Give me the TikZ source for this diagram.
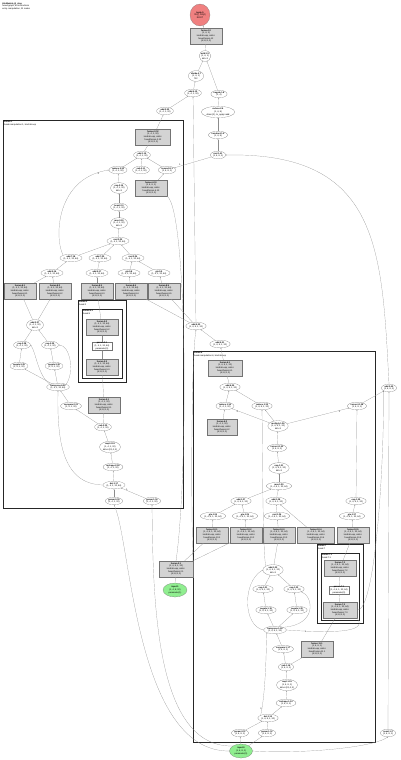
\documentclass[tikz,border=0pt]{standalone}
\usepackage{fontspec}
\setmainfont{Liberation Sans}
\definecolor{rootred}{RGB}{240,128,128}
\definecolor{paramgreen}{RGB}{144,238,144}
\definecolor{fusegray}{RGB}{211,211,211}
\usetikzlibrary{shapes.geometric, arrows.meta}
\newcommand{\hlofont}{\fontsize{3.1}{3.7}\selectfont}
\newcommand{\fusetext}[2]{\textbf{#1}\\#2\\kind=kLoop, calls=\\fused.#1\\\{4,3,2,1,0\}}

\begin{document}
\begin{tikzpicture}[
    x=0.05cm, y=-0.05cm,
    op/.style={ellipse, draw=black!55, fill=white, line width=0.25pt, inner sep=0.6pt,
      align=center, font=\hlofont},
    fuse/.style={rectangle, draw=black!55, fill=fusegray, line width=0.25pt, inner sep=0.6pt,
      minimum width=1.6cm, minimum height=0.8cm, align=center, font=\hlofont},
    plainbox/.style={rectangle, draw=black!55, fill=white, line width=0.25pt, inner sep=0.6pt,
      minimum width=1cm, align=center, font=\hlofont},
    rootop/.style={op, fill=rootred, minimum width=1cm, minimum height=1.1cm},
    paramop/.style={op, fill=paramgreen, minimum width=1.15cm, minimum height=0.7cm},
    dep/.style={draw=black!45, line width=0.25pt, -{Stealth[length=1.5pt, width=1.3pt]}},
    elabel/.style={font=\hlofont, inner sep=0.2pt},
    cluster/.style={draw=black!85, line width=0.9pt},
    clabel/.style={font=\hlofont, align=left, anchor=north west, inner sep=0.5pt},
  ]
  \useasboundingbox (0,0) rectangle (400,760);

  % clusters
  \draw[cluster] (3,120) rectangle (183,508);
  \node[clabel] (cl1) at (3.5,120.5) {\textbf{fusion.1}\\fused.computation.1, kind=kLoop};
  \draw[cluster] (78,300) rectangle (126,382);
  \node[clabel] (cl1a) at (78.5,300.5) {\textbf{fusion.2}\\fused.2};
  \draw[cluster] (82,309) rectangle (122,378.5);
  \node[clabel] (cl1b) at (82.5,309.5) {\textbf{fusion.5.1}\\fused.5};
  \draw[cluster] (193,351) rectangle (375,742);
  \node[clabel] (cl2) at (193.5,351.5) {\textbf{fusion.6}\\fused.computation.6, kind=kLoop};
  \draw[cluster] (317,544) rectangle (363,623);
  \node[clabel] (cl2a) at (317.5,544.5) {\textbf{fusion.7}\\fused.7};
  \draw[cluster] (321,553) rectangle (359,620.5);
  \node[clabel] (cl2b) at (321.5,553.5) {\textbf{fusion.7.1}\\fused.7.1};

  \node[clabel] (title) at (2,2) {\textbf{HloModule jit\_step}\\fused graph, 84 instructions\\entry computation, 31 nodes};

  % top chain
  \node[rootop] (out) at (200,15) {\textbf{tuple.5}\\f32[], f32[4]\\ROOT};
  \node[fuse, minimum width=1.6cm] (fT) at (206,36) {\fusetext{fusion.12}{(1, 4, 1)}};
  \node[op] (t1) at (205,56) {\textbf{add.3.9}\\(1, 4, 1)\\dim=1};
  \node[op] (t2) at (196,76) {\textbf{divide.4.7}\\(1, 4, 1)\\f32};
  \node[op] (t3) at (193,93) {\textbf{add.4.10}\\(1, 4, 1, 32)};
  \node[op] (t4) at (219,94) {\textbf{negate.1.8}\\(1, 4)};
  \node[op] (t5) at (218,112) {\textbf{reduce.2.6}\\(1, 4, 8)\\dims=\{2\}, to\_apply=add};
  \node[op] (t6) at (165,111) {\textbf{add.2.32}\\(1, 4, 1, 32)};
  \node[op] (t7) at (218,135) {\textbf{constant.1.5}\\(1, 4, 8)};
  \node[op] (t8) at (218,155) {\textbf{mul.1.41}\\(1, 4, 8, 1)};

  % fusion.1
  \node[fuse, minimum width=1.75cm] (a1) at (153,137) {\fusetext{fusion.3.12}{(1, 4, 1, 32)}};
  \node[op] (a2) at (142,155) {\textbf{add.1.15}\\(1, 4, 1, 32)};
  \node[op] (a3) at (118,170) {\textbf{reduce.3.30}\\(1, 4, 1, 32)};
  \node[op] (a4) at (141,170) {\textbf{sub.3.11}\\(1, 4, 1, 32)};
  \node[op] (a5) at (167,170) {\textbf{convert.8.1}\\(1, 4, 8, 1)};
  \node[fuse] (a6) at (151,188) {\fusetext{fusion.4.13}{(1, 4, 8, 1)}};
  \node[op] (a7) at (119,188) {\textbf{exp.2.14}\\(1, 4, 1, 32)\\dim=1};
  \node[op] (a8) at (119,207) {\textbf{bcast.2.3}\\(1, 4, 1, 32)};
  \node[op] (a9) at (119,223) {\textbf{max.3.19}\\(1, 4, 1, 32)\\dim=1};
  \node[op] (a10) at (118,241) {\textbf{mul.3.22}\\(1, 4, 1, 32, 64)};
  \node[op] (a11) at (71,258) {\textbf{add.7.18}\\(1, 4, 1, 32, 64)};
  \node[op] (a12) at (100,258) {\textbf{add.7.20}\\(1, 4, 1, 32, 64)};
  \node[op] (a13) at (133,258) {\textbf{mul.2.24}\\(1, 4, 1, 32, 64)};
  \node[op] (a14) at (52,273) {\textbf{add.5.16}\\(1, 4, 1, 32, 64)};
  \node[op] (a15) at (97,273) {\textbf{add.5.17}\\(1, 4, 1, 32, 64)};
  \node[op] (a16) at (129,273) {\textbf{gte.5.8}\\(1, 4, 1, 32, 64)};
  \node[op] (a17) at (159,273) {\textbf{gte.5.9}\\(1, 4, 1, 32, 64)};
  \node[fuse] (a18) at (20,291) {\fusetext{fusion.8.1}{(1, 4, 1, 32, 64)}};
  \node[fuse] (a19) at (55,291) {\fusetext{fusion.8.2}{(1, 4, 1, 32, 64)}};
  \node[fuse] (a20) at (97,291) {\fusetext{fusion.8.3}{(1, 4, 1, 32, 64)}};
  \node[fuse] (a21) at (131,291) {\fusetext{fusion.8.4}{(1, 4, 1, 32, 64)}};
  \node[fuse] (a22) at (164,291) {\fusetext{fusion.8.5}{(1, 4, 1, 32, 64)}};
  \node[fuse] (a23) at (102,327) {\fusetext{fusion.5.2}{(1, 4, 1, 32, 64)}};
  \node[plainbox] (a24) at (102,346) {\textbf{param.2.1}\\(1, 4, 1, 32, 64)\\parameter(0)};
  \node[fuse] (a25) at (102,367) {\fusetext{fusion.5.3}{(1, 4, 1, 32, 64)}};
  \node[op] (a26) at (35,325) {\textbf{add.3.27}\\(1, 4, 1, 32)\\dim=1};
  \node[op] (a27) at (22,345) {\textbf{exp.3.28}\\(1, 4, 1, 32)};
  \node[op] (a28) at (50,345) {\textbf{exp.3.29}\\(1, 4, 1, 32)};
  \node[op] (a29) at (19,366) {\textbf{negate.3.25}\\(1, 4, 1, 32)};
  \node[op] (a30) at (54,366) {\textbf{negate.3.26}\\(1, 4, 1, 32)};
  \node[op] (a31) at (58,387) {\textbf{transpose.6.22}\\(1, 4, 1, 32, 64)};
  \node[op] (a32) at (71,406) {\textbf{compare.2.21}\\(1, 4, 1, 32)};
  \node[fuse] (a33) at (104,405) {\fusetext{fusion.9.1}{(1, 4, 1, 32)}};
  \node[op] (a34) at (103,427) {\textbf{sub.2.20}\\(1, 4, 1, 32)};
  \node[op] (a35) at (110,447) {\textbf{rsqrt.2.19}\\(1, 4, 1, 32)\\dims=\{0,1,2,3\}};
  \node[op] (a36) at (113,467) {\textbf{reshape.2.18}\\(1, 4, 1, 32)};
  \node[op] (a37) at (114,485) {\textbf{dot.1.17}\\(1, 4, 1, 32, 64)};
  \node[op] (a38) at (114,501) {\textbf{param.0.15}\\(1, 4, 1, 32)};
  \node[op] (a39) at (152,501) {\textbf{param.1.16}\\(1, 4, 1, 32)};

  % between and outside
  \node[op] (m1) at (196,326) {\textbf{add.4.33}\\(1, 4, 8, 1, 32)};
  \node[op] (m2) at (220,344) {\textbf{add.4.31}\\(1, 4, 8, 1, 32)};
  \node[fuse, minimum width=1.7cm] (m3) at (176,569) {\fusetext{fusion.2.1}{(1, 4, 8, 1, 32)}};
  \node[paramop, minimum width=1.2cm] (m4) at (175,590) {\textbf{input.1}\\(1, 4, 8, 32)\\parameter(1)};
  \node[op] (m5) at (389,388) {\textbf{add.3.40}\\(1, 4, 8, 1)};
  \node[op] (m6) at (388,733) {\textbf{const.1.2}\\(1, 4, 8, 1)};
  \node[paramop] (m7) at (241,751) {\textbf{input.0}\\(1, 4, 8, 1)\\parameter(0)};

  % fusion.6
  \node[fuse, minimum width=1.7cm] (c1) at (225,368) {\fusetext{fusion.6.1}{(1, 4, 8, 1, 32)}};
  \node[op] (c2) at (230,387) {\textbf{add.6.35}\\(1, 4, 8, 1, 32)};
  \node[op] (c3) at (225,406) {\textbf{reduce.1.34}\\(1, 4, 1, 32)};
  \node[op] (c4) at (262,406) {\textbf{reduce.1.33}\\(1, 4, 8, 1, 32)};
  \node[op] (c5) at (357,406) {\textbf{convert.1.38}\\(1, 4, 8, 1)};
  \node[fuse, minimum width=1.5cm] (c6) at (222,427) {\fusetext{fusion.6.2}{(1, 4, 1, 32)}};
  \node[op] (c7) at (278,426) {\textbf{multiply.1.36}\\(1, 4, 8, 1, 32)\\dim=1};
  \node[op] (c8) at (277,448) {\textbf{convert.1.32}\\(1, 4, 8, 1)};
  \node[op] (c9) at (279,468) {\textbf{exp.1.31}\\(1, 4, 8, 1, 32)\\dim=1};
  \node[op] (c10) at (279,486) {\textbf{max.1.29}\\(1, 4, 8, 1, 32, 64)};
  \node[op] (c11) at (241,501) {\textbf{add.1.27}\\(1, 4, 8, 1, 32)};
  \node[op] (c12) at (276,501) {\textbf{add.1.28}\\(1, 4, 8, 1, 32)};
  \node[op] (c13) at (356,501) {\textbf{exp.1.39}\\(1, 4, 8, 1, 32)};
  \node[op] (c14) at (213,516) {\textbf{gte.1.24}\\(1, 4, 8, 1, 32, 64)};
  \node[op] (c15) at (245,516) {\textbf{gte.1.25}\\(1, 4, 8, 1, 32, 64)};
  \node[op] (c16) at (277,516) {\textbf{mul.1.26}\\(1, 4, 8, 1, 32, 64)};
  \node[op] (c17) at (352,516) {\textbf{gte.1.37}\\(1, 4, 8, 1, 32, 64)};
  \node[fuse] (c18) at (212,535) {\fusetext{fusion.10.1}{(1, 4, 8, 1, 32, 64)}};
  \node[fuse] (c19) at (246,535) {\fusetext{fusion.10.2}{(1, 4, 8, 1, 32, 64)}};
  \node[fuse] (c20) at (279,535) {\fusetext{fusion.10.3}{(1, 4, 8, 1, 32, 64)}};
  \node[fuse, minimum width=1.85cm] (c21) at (316,535) {\fusetext{fusion.10.4}{(1, 4, 8, 1, 32, 64)}};
  \node[fuse] (c22) at (353,535) {\fusetext{fusion.10.5}{(1, 4, 8, 1, 32, 64)}};
  \node[fuse] (c23) at (340,568) {\fusetext{fusion.7.2}{(1, 4, 8, 1, 32, 64)}};
  \node[plainbox] (c24) at (339,590) {\textbf{param.7.1}\\(1, 4, 8, 1, 32, 64)\\parameter(0)};
  \node[fuse, minimum width=1.7cm] (c25) at (340,610) {\fusetext{fusion.7.3}{(1, 4, 8, 1, 32, 64)}};
  \node[op] (c26) at (273,570) {\textbf{add.1.23}\\(1, 4, 8, 1, 32)\\dim=1};
  \node[op] (c27) at (263,589) {\textbf{exp.1.21}\\(1, 4, 8, 1, 32)};
  \node[op] (c28) at (294,589) {\textbf{exp.1.22}\\(1, 4, 8, 1, 32)};
  \node[op] (c29) at (266,610) {\textbf{negate.1.19}\\(1, 4, 8, 1, 32)};
  \node[op] (c30) at (297,610) {\textbf{negate.1.20}\\(1, 4, 8, 1, 32)};
  \node[op] (c31) at (275,630) {\textbf{transpose.1.18}\\(1, 4, 8, 1, 32)};
  \node[op] (c32) at (283,649) {\textbf{compare.1.17}\\(1, 4, 8, 1)};
  \node[fuse] (c33) at (317,649) {\fusetext{fusion.11.1}{(1, 4, 8, 1)}};
  \node[op] (c34) at (286,667) {\textbf{sub.1.16}\\(1, 4, 8, 1)};
  \node[op] (c35) at (287,685) {\textbf{rsqrt.1.15}\\(1, 4, 8, 1)\\dims=\{0,1,2,3\}};
  \node[op] (c36) at (286,703) {\textbf{reshape.1.14}\\(1, 4, 8, 1)};
  \node[op] (c37) at (268,718) {\textbf{dot.1.13}\\(1, 4, 8, 1, 32)};
  \node[op] (c38) at (240,733) {\textbf{param.0.11}\\(1, 4, 8, 1)};
  \node[op] (c39) at (267,733) {\textbf{param.1.12}\\(1, 4, 8, 1)};

  % edges, top
  \draw[dep] (fT) -- (out);
  \draw[dep] (t1) -- (fT);
  \draw[dep] (t2) -- (t1);
  \draw[dep] (t4) -- (t1);
  \draw[dep] (t3) -- (t2);
  \draw[dep] (t5) -- (t4);
  \draw[dep] (t6) -- (t3);
  \draw[dep] (t7) -- (t5);
  \draw[dep] (t8) -- (t7);
  \draw[dep] (a1) -- (t6);
  \draw[dep] (m1) -- (t3);
  \draw[dep] (m5.north) .. controls (382,250) and (380,152) .. (t8.east);
  \draw[dep] (t8) -- node[elabel, pos=0.85, above]{1} (a5);

  % edges, fusion.1
  \draw[dep] (a2) -- (a1);
  \draw[dep] (a3) -- (a2);
  \draw[dep] (a4) -- (a2);
  \draw[dep] (a5) -- (a2);
  \draw[dep] (a6) -- (a5);
  \draw[dep] (a7) -- (a3);
  \draw[dep] (a8) -- (a7);
  \draw[dep] (a9) -- (a8);
  \draw[dep] (a10) -- (a9);
  \draw[dep] (a11) -- (a10);
  \draw[dep] (a12) -- (a10);
  \draw[dep] (a13) -- (a10);
  \draw[dep] (a11.north west) .. controls (54,238) and (56,178) .. node[elabel, pos=0.93, below]{0} (a3.west);
  \draw[dep] (m3.north) .. controls (188,480) and (188,215) .. (a6.south east);
  \draw[dep] (a14) -- (a11);
  \draw[dep] (a15) -- (a12);
  \draw[dep] (a16) -- (a13);
  \draw[dep] (a17) -- (a13);
  \draw[dep] (a18) -- (a14);
  \draw[dep] (a19) -- (a14);
  \draw[dep] (a20) -- (a15);
  \draw[dep] (a21) -- (a16);
  \draw[dep] (a22) -- (a17);
  \draw[dep] (a23) -- (a20);
  \draw[dep] (a24) -- (a23);
  \draw[dep] (a25) -- (a24);
  \draw[dep] (a26) -- (a18);
  \draw[dep] (a26) -- (a19);
  \draw[dep] (a27) -- (a26);
  \draw[dep] (a28) -- (a26);
  \draw[dep] (a29) -- (a27);
  \draw[dep] (a30) -- (a28);
  \draw[dep] (a31) -- (a29);
  \draw[dep] (a31) -- (a30);
  \draw[dep] (a31.north east) .. controls (75,372) and (70,345) .. (a28.east);
  \draw[dep] (a31.north west) .. controls (38,376) and (36,352) .. (a27.east);
  \draw[dep] (a32) -- (a31);
  \draw[dep] (a33) -- (a25);
  \draw[dep] (a34) -- (a33);
  \draw[dep] (a34) -- (a32);
  \draw[dep] (a35) -- (a34);
  \draw[dep] (a36) -- (a35);
  \draw[dep] (a37) -- (a36);
  \draw[dep] (a37.west) .. controls (62,484) and (57,440) .. (a31.south);
  \draw[dep] (a38) -- (a37);
  \draw[dep] (a39) -- node[elabel, pos=0.8, right]{1} (a37);

  % edges, between
  \draw[dep] (m7.west) .. controls (135,752) and (131,540) .. (a38.south);
  \draw[dep] (m7.north west) .. controls (155,748) and (153,600) .. (a39.south);
  \draw[dep] (m4) -- (m3);
  \draw[dep] (m3.north east) .. controls (191,520) and (191,360) .. (m1.south);
  \draw[dep] (m1) -- (a21);
  \draw[dep] (m1) -- (a22);
  \draw[dep] (m3) -- (c18);
  \draw[dep] (m3) -- (c19);
  \draw[dep] (m2) -- (m1);
  \draw[dep] (c1) -- (m2);

  % edges, fusion.6
  \draw[dep] (c2) -- (c1);
  \draw[dep] (c3) -- (c2);
  \draw[dep] (c4) -- (c2);
  \draw[dep] (c6) -- (c3);
  \draw[dep] (c7) -- node[elabel, pos=0.85, below]{0} (c3);
  \draw[dep] (c7) -- (c4);
  \draw[dep] (c7) -- node[elabel, pos=0.85, below]{2} (c5);
  \draw[dep] (c8) -- (c7);
  \draw[dep] (c9) -- (c8);
  \draw[dep] (c10) -- (c9);
  \draw[dep] (c11) -- (c10);
  \draw[dep] (c12) -- (c10);
  \draw[dep] (c14) -- (c11);
  \draw[dep] (c15) -- (c11);
  \draw[dep] (c16) -- (c12);
  \draw[dep] (c17) -- (c13);
  \draw[dep] (c13) -- (c5);
  \draw[dep] (c5) -- (m5);
  \draw[dep] (c18) -- (c14);
  \draw[dep] (c19) -- (c15);
  \draw[dep] (c20) -- (c16);
  \draw[dep] (c21) -- (c12);
  \draw[dep] (c22) -- (c17);
  \draw[dep] (c26.north west) .. controls (262.5,550) and (262.5,440) .. (c4.south);
  \draw[dep] (c26) -- (c20);
  \draw[dep] (c23) -- (c22);
  \draw[dep] (c24) -- (c23);
  \draw[dep] (c25) -- (c24);
  \draw[dep] (c27) -- (c26);
  \draw[dep] (c28) -- (c26);
  \draw[dep] (c29) -- (c27);
  \draw[dep] (c30) -- (c28);
  \draw[dep] (c31) -- (c29);
  \draw[dep] (c31) -- (c30);
  \draw[dep] (c31.west) .. controls (243,626) and (242,582) .. (c26.west);
  \draw[dep] (c31.north east) .. controls (318,625) and (313,596) .. (c28.south east);
  \draw[dep] (c31.east) .. controls (330,633) and (368,633) .. node[elabel, pos=0.15, below]{1} (c25.south east);
  \draw[dep] (c25.east) .. controls (375,612) and (384,470) .. (m5.south west);
  \draw[dep] (c32) -- (c31);
  \draw[dep] (c33) -- (c25);
  \draw[dep] (c34) -- (c32);
  \draw[dep] (c34) -- (c33);
  \draw[dep] (c35) -- (c34);
  \draw[dep] (c36) -- (c35);
  \draw[dep] (c37) -- (c36);
  \draw[dep] (c37.north west) .. controls (266,690) and (266,650) .. node[elabel, pos=0.08, left]{0} (c31.south west);
  \draw[dep] (c38) -- (c37);
  \draw[dep] (c39) -- (c37);
  \draw[dep] (m7) -- (c38);
  \draw[dep] (m7) -- (c39);
  \draw[dep] (m7.east) .. controls (300,754) and (372,748) .. (m6.south);
  \draw[dep] (m6) -- (m5);
\end{tikzpicture}
\end{document}
